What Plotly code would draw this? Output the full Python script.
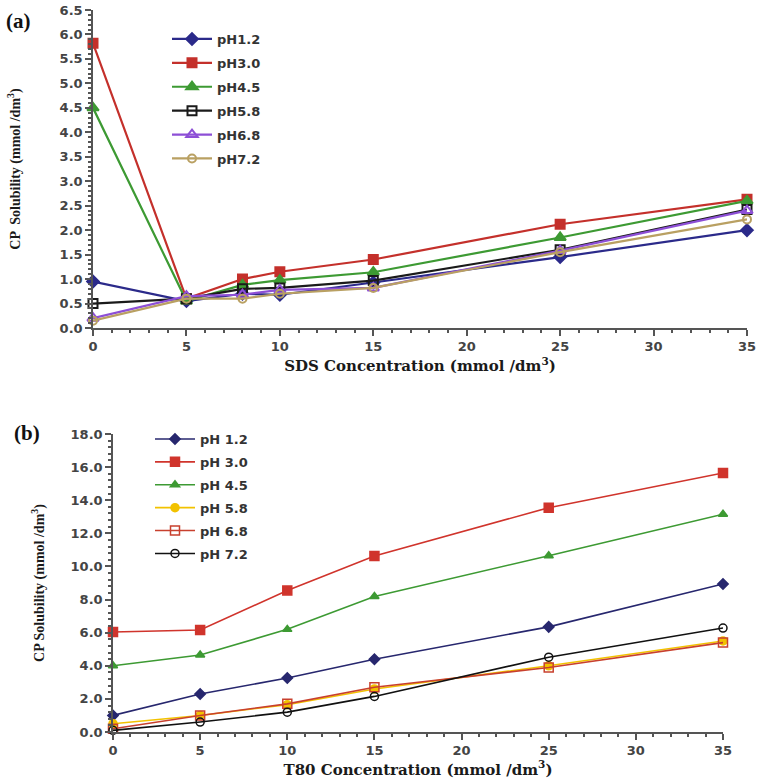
import plotly.graph_objects as go

W, H = 763, 779
FW, FH = W, H


def px(x):
    return x / FW


def py(y):
    return 1 - y / FH


# ---------- Panel (a) data: SDS ----------
sds_x = [0, 5, 8, 10, 15, 25, 35]
a_labels = ["pH1.2", "pH3.0", "pH4.5", "pH5.8", "pH6.8", "pH7.2"]
a_ph12 = [0.95, 0.55, 0.70, 0.68, 0.93, 1.45, 2.00]
a_ph30 = [5.82, 0.60, 1.00, 1.15, 1.40, 2.12, 2.63]
a_ph45 = [4.50, 0.55, 0.88, 0.98, 1.14, 1.85, 2.60]
a_ph58 = [0.50, 0.60, 0.80, 0.82, 0.97, 1.60, 2.42]
a_ph68 = [0.20, 0.65, 0.68, 0.78, 0.82, 1.58, 2.40]
a_ph72 = [0.15, 0.60, 0.60, 0.70, 0.82, 1.55, 2.22]

# ---------- Panel (b) data: T80 ----------
t80_x = [0, 5, 10, 15, 25, 35]
b_labels = ["pH 1.2", "pH 3.0", "pH 4.5", "pH 5.8", "pH 6.8", "pH 7.2"]
b_ph12 = [1.00, 2.30, 3.26, 4.40, 6.35, 8.94]
b_ph30 = [6.04, 6.16, 8.55, 10.63, 13.55, 15.65]
b_ph45 = [4.00, 4.65, 6.20, 8.18, 10.65, 13.15]
b_ph58 = [0.50, 1.00, 1.65, 2.60, 4.00, 5.50]
b_ph68 = [0.20, 1.00, 1.70, 2.70, 3.90, 5.40]
b_ph72 = [0.10, 0.60, 1.20, 2.15, 4.52, 6.28]

fig = go.Figure()

a_series = [a_ph12, a_ph30, a_ph45, a_ph58, a_ph68, a_ph72]
a_colors = ["#2b2a8a", "#c4302b", "#3d9a33", "#1a1a1a", "#8d4fd6", "#b9a062"]
a_symbols = ["diamond", "square", "triangle-up", "square-open", "triangle-up-open", "circle-open"]
a_sizes = [9, 9, 10, 9, 10, 8]
for i, (lab, ys) in enumerate(zip(a_labels, a_series)):
    fig.add_trace(go.Scatter(
        x=sds_x, y=ys, name=lab, mode="lines+markers",
        line=dict(color=a_colors[i], width=2.2),
        marker=dict(symbol=a_symbols[i], size=a_sizes[i], color=a_colors[i],
                    line=dict(color=a_colors[i], width=2)),
        xaxis="x", yaxis="y", legend="legend", legendgroup="a%d" % i,
        cliponaxis=False))

b_series = [b_ph12, b_ph30, b_ph45, b_ph58, b_ph68, b_ph72]
b_colors = ["#27276e", "#d0342c", "#3d9a33", "#f2c200", "#c8402e", "#111111"]
b_symbols = ["diamond", "square", "triangle-up", "circle", "square-open", "circle-open"]
b_sizes = [8, 9, 8, 8, 9, 8]
for i, (lab, ys) in enumerate(zip(b_labels, b_series)):
    fig.add_trace(go.Scatter(
        x=t80_x, y=ys, name=lab, mode="lines+markers",
        line=dict(color=b_colors[i], width=1.6),
        marker=dict(symbol=b_symbols[i], size=b_sizes[i], color=b_colors[i],
                    line=dict(color=b_colors[i], width=1.5)),
        xaxis="x2", yaxis="y2", legend="legend2", legendgroup="b%d" % i,
        cliponaxis=False))

tickfont = dict(family="DejaVu Sans", size=13, color="#444", weight="bold")
titlefont = dict(family="DejaVu Serif", size=15, color="#1a1a1a", weight="bold")
ytitlefont = dict(family="Liberation Serif", size=14, color="#1a1a1a", weight="bold")
axcommon = dict(showline=True, linecolor="#555", linewidth=1.5, ticks="outside",
                tickcolor="#555", tickwidth=1.5, ticklen=6, showgrid=False,
                zeroline=False, tickfont=tickfont, automargin=False,
                ticklabeloverflow="allow")
legfont = dict(family="DejaVu Sans", size=13, color="#333", weight="bold")

fig.update_layout(
    width=FW, height=FH, paper_bgcolor="white", plot_bgcolor="white",
    margin=dict(l=0, r=0, t=0, b=0, autoexpand=False),
    xaxis=dict(domain=[px(93), px(747)], range=[0, 35], dtick=5, anchor="y",
               minor=dict(dtick=1, ticks="outside", ticklen=3, tickcolor="#555"),
               title=dict(text="SDS Concentration (mmol /dm<sup>3</sup>)", font=titlefont, standoff=7),
               **axcommon),
    yaxis=dict(domain=[py(328), py(10)], range=[0, 6.5], dtick=0.5, tickformat=".1f",
               anchor="x",
               minor=dict(dtick=0.1, ticks="outside", ticklen=3, tickcolor="#555"),
               title=dict(text="CP  Solubility (mmol /dm<sup>3</sup>)", font=ytitlefont, standoff=36),
               **axcommon),
    xaxis2=dict(domain=[px(113), px(723)], range=[0, 35], dtick=5, anchor="y2",
                minor=dict(dtick=1, ticks="outside", ticklen=3, tickcolor="#555"),
                title=dict(text="T80 Concentration (mmol /dm<sup>3</sup>)", font=titlefont, standoff=3),
                **axcommon),
    yaxis2=dict(domain=[py(732), py(434)], range=[0, 18], dtick=2, tickformat=".1f",
                anchor="x2",
                minor=dict(dtick=0.4, ticks="outside", ticklen=3, tickcolor="#555"),
                title=dict(text="CP Solubility (mmol /dm<sup>3</sup>)", font=ytitlefont, standoff=23),
                **axcommon),
    legend=dict(x=px(167), y=py(24), xanchor="left", yanchor="top", itemwidth=40,
                bgcolor="rgba(0,0,0,0)", tracegroupgap=4, font=legfont),
    legend2=dict(x=px(150), y=py(424), xanchor="left", yanchor="top", itemwidth=40,
                 bgcolor="rgba(0,0,0,0)", tracegroupgap=3, font=legfont),
    annotations=[
        dict(text="<b>(a)</b>", x=px(4), y=py(21), xref="paper", yref="paper",
             xanchor="left", yanchor="middle", showarrow=False,
             font=dict(family="Liberation Serif", size=21, color="#111")),
        dict(text="<b>(b)</b>", x=px(12), y=py(433), xref="paper", yref="paper",
             xanchor="left", yanchor="middle", showarrow=False,
             font=dict(family="Liberation Serif", size=21, color="#111")),
    ],
)

fig.write_html("out.html",
               config={"displayModeBar": False},
               post_script="document.body.style.margin='0px';"
                           "document.body.style.overflow='hidden';")
